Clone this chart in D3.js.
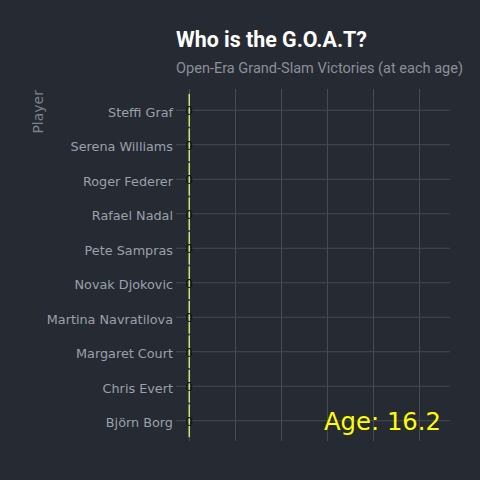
<!DOCTYPE html>
<html>
<head>
<meta charset="utf-8">
<script src="https://cdn.jsdelivr.net/npm/d3@7"></script>
<style>
html,body{margin:0;padding:0;background:#262a33;}
svg{display:block;}
</style>
</head>
<body>
<svg id="chart" width="480" height="480"></svg>
<script>
const players = ["Steffi Graf","Serena Williams","Roger Federer","Rafael Nadal","Pete Sampras","Novak Djokovic","Martina Navratilova","Margaret Court","Chris Evert","Björn Borg"];
const wins = [0,0,0,0,0,0,0,0,0,0];
const xTicks = [0,5,10,15,20,25];
const titleText = "Who is the G.O.A.T?";
const subtitleText = "Open-Era Grand-Slam Victories (at each age)";
const yAxisTitle = "Player";
const ageLabel = "Age: 16.2";

const svg = d3.select("#chart");
svg.append("rect").attr("width",480).attr("height",480).attr("fill","#262a33");

const panel = {left:186, right:450, top:89, bottom:441};
const x = d3.scaleLinear().domain([0,28.26]).range([190,450]);
const y = d3.scaleBand().domain(players).range([93,438]).paddingInner(0.05).paddingOuter(0.025);
const gridColor = "#464a52";

// vertical grid
svg.append("g").selectAll("line").data(xTicks).join("line")
  .attr("x1",d=>x(d)-0.5).attr("x2",d=>x(d)-0.5)
  .attr("y1",panel.top).attr("y2",panel.bottom)
  .attr("stroke",gridColor).attr("stroke-width",1);

// horizontal grid + ticks
svg.append("g").selectAll("line").data(players).join("line")
  .attr("x1",176).attr("x2",panel.right)
  .attr("y1",d=>y(d)+y.bandwidth()/2).attr("y2",d=>y(d)+y.bandwidth()/2)
  .attr("stroke",gridColor).attr("stroke-width",1);

// y labels
svg.append("g").selectAll("text").data(players).join("text")
  .attr("x",173).attr("y",d=>y(d)+y.bandwidth()/2+6.5)
  .attr("text-anchor","end")
  .attr("font-family","'DejaVu Sans', sans-serif").attr("font-size",12.8)
  .attr("fill","#9aa1ab").text(d=>d);

// bars (minimum visible width for zero values)
const data = players.map((p,i)=>({p, v:wins[i]}));
svg.append("g").selectAll("rect").data(data).join("rect")
  .attr("x",d=>x(0)-1.5).attr("width",d=>Math.max(x(d.v)-x(0),1.5))
  .attr("y",d=>y(d.p)).attr("height",y.bandwidth())
  .attr("fill","#d0e470");

// value labels
svg.append("g").selectAll("text").data(data).join("text")
  .attr("x",d=>x(d.v)-1).attr("y",d=>y(d.p)+y.bandwidth()/2+5)
  .attr("text-anchor","middle")
  .attr("font-family","'DejaVu Sans', sans-serif").attr("font-size",12)
  .attr("fill","#111318").text(d=>d.v);

// axis title
svg.append("text").attr("transform","translate(43,90) rotate(-90)")
  .attr("text-anchor","end").attr("font-family","'DejaVu Sans', sans-serif")
  .attr("font-size",14).attr("fill","#7c828b").text(yAxisTitle);

// title
svg.append("text").attr("x",176).attr("y",47)
  .attr("font-family","Roboto, sans-serif").attr("font-weight","bold")
  .attr("font-size",22).attr("fill","#ffffff")
  .attr("textLength",191).attr("lengthAdjust","spacingAndGlyphs").text(titleText);
svg.append("text").attr("x",176).attr("y",73)
  .attr("font-family","Roboto, sans-serif")
  .attr("font-size",15).attr("fill","#8c9098")
  .attr("textLength",287).attr("lengthAdjust","spacingAndGlyphs").text(subtitleText);

// age label
svg.append("text").attr("x",324).attr("y",430)
  .attr("font-family","'DejaVu Sans', sans-serif").attr("font-size",25)
  .attr("fill","#ffff00")
  .attr("textLength",117).attr("lengthAdjust","spacingAndGlyphs").text(ageLabel);
</script>
</body>
</html>
